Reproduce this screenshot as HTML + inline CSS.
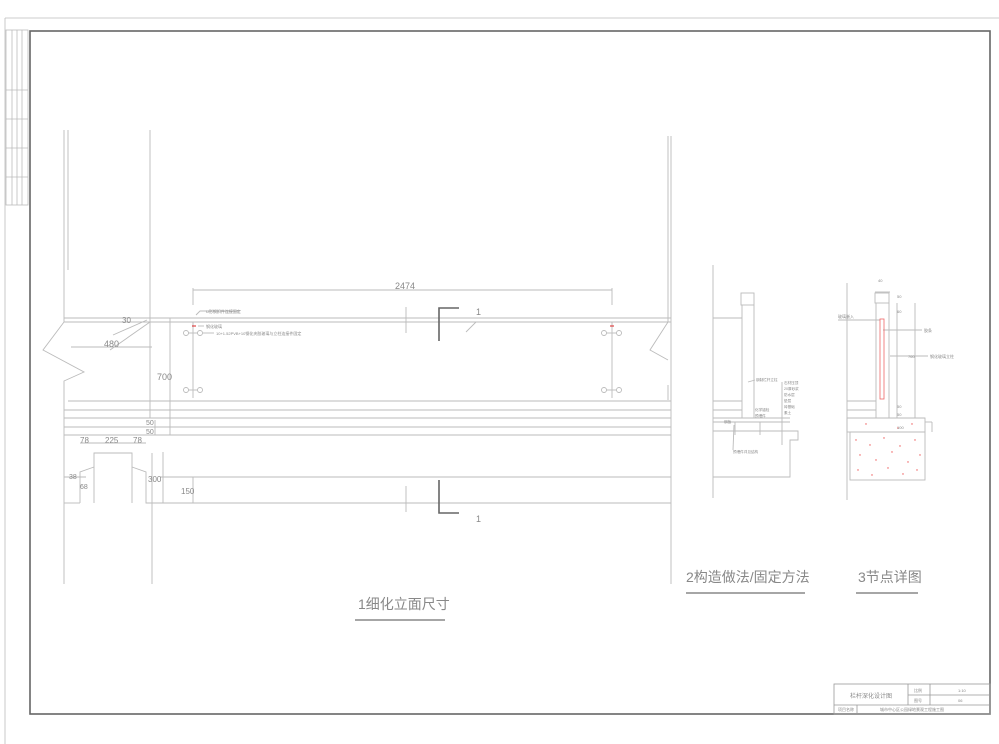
<!DOCTYPE html>
<html><head><meta charset="utf-8"><style>
html,body{margin:0;padding:0;background:#fff;}
svg{display:block;}
text{font-family:"Liberation Sans","Noto Sans CJK SC",sans-serif;fill:#888;}
</style></head><body>
<svg width="999" height="744" viewBox="0 0 999 744" xmlns="http://www.w3.org/2000/svg">
<g fill="none" stroke="#bbb" stroke-width="0.8">
<!-- outer page lines -->
<line x1="5" y1="18" x2="999" y2="18"/>
<line x1="5" y1="18" x2="5" y2="744"/>
<!-- left strip -->
<rect x="6" y="30" width="22" height="175"/>
<line x1="12" y1="30" x2="12" y2="205"/>
<line x1="17" y1="30" x2="17" y2="205"/>
<line x1="22" y1="30" x2="22" y2="205"/>
<line x1="6" y1="90" x2="28" y2="90"/>
<line x1="6" y1="119" x2="28" y2="119"/>
<line x1="6" y1="148" x2="28" y2="148"/>
<line x1="6" y1="177" x2="28" y2="177"/>
</g>
<rect x="30" y="31" width="960" height="683" fill="none" stroke="#666" stroke-width="1.6"/>
<!-- title block -->
<g fill="none" stroke="#999" stroke-width="0.8">
<rect x="834" y="684" width="156" height="30"/>
<line x1="834" y1="705" x2="990" y2="705"/>
<line x1="908" y1="684" x2="908" y2="705"/>
<line x1="930" y1="684" x2="930" y2="705"/>
<line x1="908" y1="695" x2="990" y2="695"/>
<line x1="857" y1="705" x2="857" y2="714"/>
</g>
<text x="850" y="698" font-size="6">栏杆深化设计图</text>
<text x="914" y="692" font-size="4">比例</text><text x="958" y="692" font-size="4">1:10</text>
<text x="914" y="702" font-size="4">图号</text><text x="958" y="702" font-size="4">06</text>
<text x="838" y="711" font-size="4">项目名称</text>
<text x="880" y="711" font-size="4">城市中心区公园绿地景观工程施工图</text>

<!-- main elevation -->
<g fill="none" stroke="#bbb" stroke-width="0.9">
<polyline points="64,130 64,322 43,350 84,372 64,381 64,584"/>
<line x1="68" y1="130" x2="68" y2="270"/>
<line x1="150" y1="130" x2="150" y2="418"/>
<line x1="152" y1="453" x2="152" y2="584"/>
<polyline points="668,136 668,322 650,350 668,360"/>
<line x1="671" y1="136" x2="671" y2="584"/>
<line x1="668" y1="385" x2="668" y2="400"/>
<line x1="64" y1="318" x2="671" y2="318"/>
<line x1="64" y1="322" x2="671" y2="322"/>
<line x1="68" y1="401" x2="671" y2="401"/>
<line x1="64" y1="410" x2="671" y2="410"/>
<line x1="64" y1="418" x2="671" y2="418"/>
<line x1="64" y1="427" x2="671" y2="427"/>
<line x1="64" y1="435" x2="671" y2="435"/>
<line x1="160" y1="477" x2="671" y2="477"/>
<line x1="64" y1="477" x2="86" y2="477"/>
<line x1="160" y1="503" x2="671" y2="503"/>
<!-- lower blocks -->
<polyline points="94,503 94,453 132,453 132,503"/>
<polyline points="80,503 80,472 94,467"/>
<polyline points="132,467 146,472 146,503 160,503"/>
<line x1="80" y1="503" x2="64" y2="503"/>
<!-- dims -->
<line x1="193" y1="290" x2="612" y2="290"/>
<line x1="193" y1="288" x2="193" y2="305"/>
<line x1="612" y1="288" x2="612" y2="305"/>
<line x1="71" y1="347" x2="152" y2="347"/>
<line x1="170" y1="318" x2="170" y2="435"/>
<line x1="155" y1="420" x2="155" y2="435"/>
<line x1="80" y1="443" x2="146" y2="443"/>
<line x1="163" y1="452" x2="163" y2="503"/>
<line x1="193" y1="477" x2="193" y2="503"/>
<line x1="113" y1="335" x2="147" y2="320"/>
<line x1="110" y1="350" x2="150" y2="322"/>
<line x1="466" y1="332" x2="476" y2="322"/>
<line x1="406" y1="307" x2="406" y2="333"/>
<line x1="406" y1="486" x2="406" y2="512"/>
<!-- posts -->
<line x1="193" y1="322" x2="193" y2="398"/>
<line x1="612" y1="322" x2="612" y2="398"/>
<circle cx="186" cy="333" r="2.5"/><circle cx="200" cy="333" r="2.5"/>
<circle cx="186" cy="390" r="2.5"/><circle cx="200" cy="390" r="2.5"/>
<circle cx="604" cy="333" r="2.5"/><circle cx="619" cy="333" r="2.5"/>
<circle cx="604" cy="390" r="2.5"/><circle cx="619" cy="390" r="2.5"/>
<line x1="188" y1="333" x2="198" y2="333"/><line x1="188" y1="390" x2="198" y2="390"/>
<line x1="606" y1="333" x2="617" y2="333"/><line x1="606" y1="390" x2="617" y2="390"/>
<polyline points="196,315 200,311 240,311"/>
<line x1="198" y1="326" x2="204" y2="326"/>
<line x1="203" y1="333" x2="214" y2="333"/>
</g>
<line x1="192" y1="326" x2="196" y2="326" stroke="#d22" stroke-width="1"/>
<line x1="610" y1="326" x2="614" y2="326" stroke="#d22" stroke-width="1"/>
<g fill="none" stroke="#666" stroke-width="1.6">
<polyline points="459,308 439,308 439,341"/>
<polyline points="439,480 439,513 459,513"/>
</g>
<g font-size="9">
<text x="395" y="289">2474</text>
<text x="476" y="315">1</text>
<text x="476" y="522">1</text>
<text x="122" y="323" font-size="8">30</text>
<text x="104" y="347">480</text>
<text x="157" y="380">700</text>
<text x="146" y="425" font-size="7">50</text>
<text x="146" y="434" font-size="7">50</text>
<text x="80" y="443" font-size="8">78</text>
<text x="105" y="443" font-size="8">225</text>
<text x="133" y="443" font-size="8">78</text>
<text x="69" y="479" font-size="7">38</text>
<text x="80" y="489" font-size="7">68</text>
<text x="148" y="482" font-size="8">300</text>
<text x="181" y="494" font-size="8">150</text>
</g>
<g font-size="4"><text x="206" y="313">U形钢扣件连接固定</text><text x="206" y="328">钢化玻璃</text><text x="216" y="335">10+1.52PVB+10钢化夹胶玻璃与立柱连接件固定</text></g>

<!-- section 2 -->
<g fill="none" stroke="#bbb" stroke-width="0.9">
<line x1="713" y1="265" x2="713" y2="498"/>
<rect x="741" y="293" width="13" height="12"/>
<line x1="742" y1="305" x2="742" y2="418"/>
<line x1="754" y1="305" x2="754" y2="418"/>
<line x1="713" y1="318" x2="742" y2="318"/>
<line x1="713" y1="401" x2="742" y2="401"/>
<line x1="713" y1="410" x2="742" y2="410"/>
<line x1="713" y1="418" x2="790" y2="418"/>
<line x1="713" y1="422" x2="790" y2="422"/>
<polyline points="713,431 798,431 798,440 790,440 790,477 713,477"/>
<line x1="782" y1="382" x2="782" y2="445"/>
<line x1="735" y1="422" x2="735" y2="435"/>
<line x1="760" y1="422" x2="760" y2="435"/>
<line x1="734" y1="425" x2="733" y2="450"/>
<line x1="748" y1="382" x2="755" y2="380"/>
</g>
<g font-size="3.6"><text x="756" y="381">钢制栏杆立柱</text><text x="784" y="384">石材压顶</text><text x="784" y="390">20厚砂浆</text><text x="784" y="396">防水层</text><text x="784" y="402">垫层</text><text x="784" y="408">砖基础</text><text x="784" y="414">素土</text><text x="755" y="411">化学锚栓</text><text x="755" y="417">预埋件</text><text x="724" y="423">钢板</text><text x="733" y="453">预埋件详见结构</text></g>

<!-- section 3 -->
<g fill="none" stroke="#bbb" stroke-width="0.9">
<line x1="847" y1="283" x2="847" y2="500"/>
<rect x="875" y="293" width="14" height="10"/>
<line x1="876" y1="303" x2="876" y2="418"/>
<line x1="889" y1="303" x2="889" y2="418"/>
<line x1="847" y1="401" x2="876" y2="401"/>
<line x1="847" y1="410" x2="876" y2="410"/>
<line x1="847" y1="418" x2="925" y2="418"/>
<rect x="847" y="418" width="78" height="14"/>
<line x1="925" y1="422" x2="932" y2="422"/>
<line x1="932" y1="422" x2="932" y2="432"/>
<rect x="850" y="432" width="75" height="48"/>
<line x1="915" y1="303" x2="915" y2="418"/>
<line x1="897" y1="303" x2="897" y2="418"/>
<line x1="875" y1="292" x2="890" y2="292"/>
<line x1="838" y1="320" x2="880" y2="320"/>
<line x1="883" y1="330" x2="922" y2="330"/>
<line x1="890" y1="356" x2="928" y2="356"/>
</g>
<rect x="880" y="319" width="4" height="80" fill="none" stroke="#e66" stroke-width="0.8"/>
<g fill="#e55">
<circle cx="856" cy="440" r="0.7"/><circle cx="870" cy="445" r="0.7"/><circle cx="884" cy="438" r="0.7"/><circle cx="900" cy="446" r="0.7"/><circle cx="915" cy="440" r="0.7"/>
<circle cx="860" cy="455" r="0.7"/><circle cx="876" cy="460" r="0.7"/><circle cx="892" cy="452" r="0.7"/><circle cx="908" cy="462" r="0.7"/><circle cx="920" cy="455" r="0.7"/>
<circle cx="858" cy="470" r="0.7"/><circle cx="872" cy="475" r="0.7"/><circle cx="888" cy="468" r="0.7"/><circle cx="903" cy="474" r="0.7"/><circle cx="917" cy="470" r="0.7"/>
<circle cx="866" cy="424" r="0.7"/><circle cx="898" cy="428" r="0.7"/><circle cx="912" cy="424" r="0.7"/>
</g>
<g font-size="4"><text x="878" y="282">40</text><text x="897" y="298">50</text><text x="897" y="313">60</text><text x="908" y="358">760</text><text x="897" y="408">50</text><text x="897" y="416">50</text><text x="897" y="429">100</text><text x="838" y="318">玻璃嵌入</text><text x="924" y="332">胶条</text><text x="930" y="358">钢化玻璃立柱</text></g>

<!-- titles -->
<text x="686" y="582" font-size="14">2构造做法/固定方法</text>
<line x1="686" y1="593" x2="805" y2="593" stroke="#888" stroke-width="1.4"/>
<text x="858" y="582" font-size="14">3节点详图</text>
<line x1="856" y1="593" x2="918" y2="593" stroke="#888" stroke-width="1.4"/>
<text x="358" y="609" font-size="14">1细化立面尺寸</text>
<line x1="355" y1="620" x2="445" y2="620" stroke="#888" stroke-width="1.4"/>
</svg>
</body></html>
